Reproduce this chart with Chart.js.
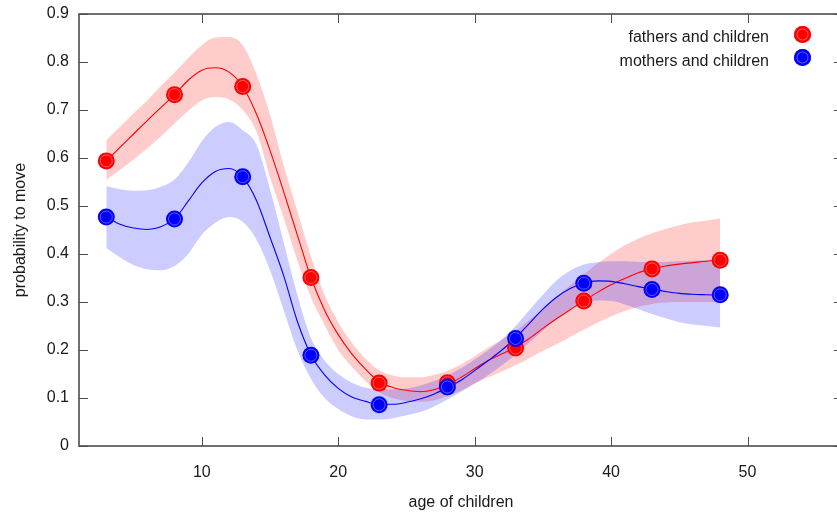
<!DOCTYPE html>
<html lang="en">
<head>
<meta charset="UTF-8">
<title>probability to move</title>
<script src="https://cdn.jsdelivr.net/npm/chart.js"></script>
<style>
    body { margin: 0; background: #fff; overflow: hidden; }
    .wrap { position: relative; width: 837px; height: 513px; overflow: hidden; }
    /* the plot frame runs a few pixels past the right edge, as in the original */
    .plot { position: absolute; left: 0; top: 0; width: 843px; height: 513px; }
    .legend { position: absolute; left: 0; top: 0; width: 837px; height: 100px; font-family: "Liberation Sans", Arial, sans-serif; font-size: 16px; color: #1a1a1a; }
    .legend-row { position: absolute; right: 68px; white-space: nowrap; line-height: 20px; }
    .legend-dot { position: absolute; width: 17px; height: 17px; border-radius: 50%; }
</style>
</head>
<body>
<div class="wrap">
    <div class="plot"><canvas id="chart"></canvas></div>
    <div id="legend" class="legend"></div>
</div>
<script>
// measured points
const ages = [3, 8, 13, 18, 23, 28, 33, 38, 43, 48];
const fathers = [0.594, 0.732, 0.749, 0.351, 0.131, 0.132, 0.204, 0.302, 0.369, 0.387];
const mothers = [0.477, 0.473, 0.561, 0.189, 0.086, 0.123, 0.224, 0.339, 0.326, 0.315];

// smoothed fit and its band, read at each year
const fitAges = [3, 4, 5, 6, 7, 8, 9, 10, 11, 12, 13, 14, 15, 16, 17, 18, 19, 20, 21, 22, 23, 24, 25,
    26, 27, 28, 29, 30, 31, 32, 33, 34, 35, 36, 37, 38, 39, 40, 41, 42, 43, 44, 45, 46, 47, 48];
const fatherFit = [0.594, 0.622, 0.650, 0.678, 0.705, 0.732, 0.762, 0.783, 0.788, 0.779, 0.749, 0.692,
    0.616, 0.530, 0.440, 0.351, 0.283, 0.232, 0.192, 0.160, 0.134, 0.122, 0.116, 0.113, 0.117, 0.128,
    0.143, 0.161, 0.178, 0.192, 0.206, 0.224, 0.245, 0.265, 0.284, 0.302, 0.320, 0.336, 0.349, 0.361,
    0.369, 0.375, 0.379, 0.382, 0.385, 0.387];
const fatherHi = [0.637, 0.665, 0.693, 0.720, 0.750, 0.778, 0.808, 0.835, 0.851, 0.852, 0.835, 0.775,
    0.690, 0.585, 0.490, 0.395, 0.315, 0.258, 0.215, 0.182, 0.158, 0.147, 0.143, 0.143, 0.148, 0.157,
    0.170, 0.187, 0.205, 0.222, 0.240, 0.262, 0.286, 0.310, 0.335, 0.358, 0.380, 0.400, 0.418, 0.432,
    0.443, 0.452, 0.460, 0.466, 0.470, 0.474];
const fatherLo = [0.554, 0.575, 0.597, 0.620, 0.645, 0.672, 0.698, 0.720, 0.727, 0.722, 0.700, 0.655,
    0.560, 0.475, 0.387, 0.310, 0.252, 0.200, 0.165, 0.135, 0.112, 0.100, 0.094, 0.092, 0.095, 0.104,
    0.115, 0.130, 0.143, 0.155, 0.168, 0.183, 0.198, 0.212, 0.227, 0.242, 0.257, 0.270, 0.281, 0.290,
    0.296, 0.299, 0.300, 0.300, 0.300, 0.300];
const motherFit = [0.477, 0.462, 0.454, 0.451, 0.457, 0.473, 0.510, 0.548, 0.572, 0.578, 0.560, 0.512,
    0.435, 0.355, 0.260, 0.190, 0.148, 0.120, 0.102, 0.093, 0.087, 0.087, 0.091, 0.098, 0.108, 0.122,
    0.137, 0.157, 0.178, 0.200, 0.225, 0.255, 0.285, 0.310, 0.328, 0.339, 0.344, 0.343, 0.338, 0.332,
    0.327, 0.322, 0.318, 0.316, 0.315, 0.314];
const motherHi = [0.541, 0.535, 0.532, 0.533, 0.540, 0.555, 0.590, 0.635, 0.665, 0.675, 0.658, 0.628,
    0.535, 0.425, 0.315, 0.225, 0.178, 0.150, 0.132, 0.122, 0.118, 0.118, 0.120, 0.126, 0.135, 0.147,
    0.162, 0.180, 0.200, 0.222, 0.250, 0.283, 0.315, 0.345, 0.365, 0.378, 0.383, 0.385, 0.385, 0.384,
    0.383, 0.384, 0.385, 0.386, 0.387, 0.387];
const motherLo = [0.413, 0.393, 0.377, 0.368, 0.366, 0.375, 0.400, 0.440, 0.465, 0.477, 0.467, 0.430,
    0.366, 0.283, 0.200, 0.140, 0.100, 0.077, 0.062, 0.055, 0.055, 0.058, 0.064, 0.071, 0.082, 0.097,
    0.113, 0.130, 0.148, 0.168, 0.190, 0.215, 0.240, 0.265, 0.285, 0.298, 0.303, 0.302, 0.295, 0.285,
    0.275, 0.266, 0.258, 0.253, 0.250, 0.247];

const xTicks = [10, 20, 30, 40, 50];
const yTicks = [0, 0.1, 0.2, 0.3, 0.4, 0.5, 0.6, 0.7, 0.8, 0.9];
const seriesNames = ['fathers and children', 'mothers and children'];
const seriesColors = ['#ff0000', '#0000ff'];

const pts = (xs, ys) => xs.map((x, i) => ({x: x, y: ys[i]}));
const textColor = '#1a1a1a';
Chart.defaults.font.family = '"Liberation Sans", Arial, sans-serif';
Chart.defaults.font.size = 16;
Chart.defaults.color = textColor;

function band(data, color, fill, order) {
    return {
        data: data, fill: fill, backgroundColor: color, borderColor: 'transparent', borderWidth: 0,
        pointRadius: 0, cubicInterpolationMode: 'monotone', order: order
    };
}
function fitLine(data, color, order) {
    return {
        data: data, fill: false, borderColor: color, borderWidth: 1.1, pointRadius: 0,
        cubicInterpolationMode: 'monotone', order: order
    };
}
function dots(data, color, order) {
    return {
        data: data, showLine: false, pointRadius: 8.5, pointHoverRadius: 8.5,
        pointBackgroundColor: color, pointBorderWidth: 0, order: order
    };
}
function rings(data, order) {
    return {
        data: data, showLine: false, pointRadius: 6, pointHoverRadius: 6,
        pointBackgroundColor: 'transparent', pointBorderColor: 'rgba(255,255,255,0.35)',
        pointBorderWidth: 1, order: order
    };
}
// drop the label overhang Chart.js reserves, the frame is placed by layout padding
function noOverhang(s) {
    s.paddingTop = 0; s.paddingBottom = 0; s.paddingLeft = 0; s.paddingRight = 0;
}

// gnuplot style frame with inward ticks on all four sides
const frameTicks = {
    id: 'frameTicks',
    afterDatasetsDraw(chart) {
        const {ctx, chartArea: a, scales: {x, y}} = chart;
        const len = 9;
        ctx.save();
        ctx.strokeStyle = '#4d4d4d';
        ctx.lineWidth = 1;
        ctx.beginPath();
        x.ticks.forEach(t => {
            const px = Math.round(x.getPixelForValue(t.value)) + 0.5;
            ctx.moveTo(px, a.bottom); ctx.lineTo(px, a.bottom - len);
            ctx.moveTo(px, a.top); ctx.lineTo(px, a.top + len);
        });
        y.ticks.forEach(t => {
            const py = Math.round(y.getPixelForValue(t.value)) + 0.5;
            ctx.moveTo(a.left, py); ctx.lineTo(a.left + len, py);
            ctx.moveTo(a.right, py); ctx.lineTo(a.right - len, py);
        });
        ctx.stroke();
        ctx.lineWidth = 1.6;
        ctx.strokeRect(a.left, a.top, a.right - a.left, a.bottom - a.top);
        ctx.restore();
    }
};

new Chart(document.getElementById('chart'), {
    type: 'line',
    data: {
        datasets: [
            band(pts(fitAges, fatherHi), 'rgba(255,0,0,0.2)', '+1', 9),
            band(pts(fitAges, fatherLo), 'transparent', false, 9),
            band(pts(fitAges, motherHi), 'rgba(0,0,255,0.2)', '+1', 7),
            band(pts(fitAges, motherLo), 'transparent', false, 7),
            fitLine(pts(fitAges, fatherFit), seriesColors[0], 5),
            fitLine(pts(fitAges, motherFit), seriesColors[1], 4),
            dots(pts(ages, fathers), seriesColors[0], 3),
            rings(pts(ages, fathers), 2),
            dots(pts(ages, mothers), seriesColors[1], 1),
            rings(pts(ages, mothers), 0)
        ]
    },
    options: {
        responsive: true,
        maintainAspectRatio: false,
        animation: false,
        events: [],
        layout: {autoPadding: false, padding: {top: 14, right: 0, left: 0, bottom: 0}},
        plugins: {legend: {display: false}, tooltip: {enabled: false}},
        scales: {
            x: {
                type: 'linear', min: 1, max: 57,
                grid: {display: false, drawTicks: false},
                border: {display: false},
                ticks: {padding: 17, autoSkip: false, maxRotation: 0, color: textColor},
                afterBuildTicks: s => { s.ticks = xTicks.map(v => ({value: v})); },
                afterFit: s => { s.height = 67; noOverhang(s); },
                title: {display: true, text: 'age of children', padding: {top: 0, bottom: 1}, color: textColor}
            },
            y: {
                type: 'linear', min: 0, max: 0.9,
                grid: {display: false, drawTicks: false},
                border: {display: false},
                ticks: {padding: 10, autoSkip: false, color: textColor, callback: v => String(v)},
                afterBuildTicks: s => { s.ticks = yTicks.map(v => ({value: v})); },
                afterFit: s => { s.width = 79; noOverhang(s); },
                title: {display: true, text: 'probability to move', padding: {top: 11, bottom: 0}, color: textColor}
            }
        }
    },
    plugins: [frameTicks]
});

// legend in the top right corner of the plot, marker to the right of the text
const legend = document.getElementById('legend');
seriesNames.forEach((name, i) => {
    const row = document.createElement('div');
    row.className = 'legend-row';
    row.style.top = (27 + i * 24) + 'px';
    row.textContent = name;
    legend.appendChild(row);
    const dot = document.createElement('div');
    dot.className = 'legend-dot';
    dot.style.left = (802 - 8.5) + 'px';
    dot.style.top = (34 + i * 23.7 - 8.5) + 'px';
    dot.style.background = seriesColors[i];
    dot.style.boxShadow = 'inset 0 0 0 2.5px ' + seriesColors[i] + ', inset 0 0 0 3.5px rgba(255,255,255,0.35)';
    legend.appendChild(dot);
});
</script>
</body>
</html>
